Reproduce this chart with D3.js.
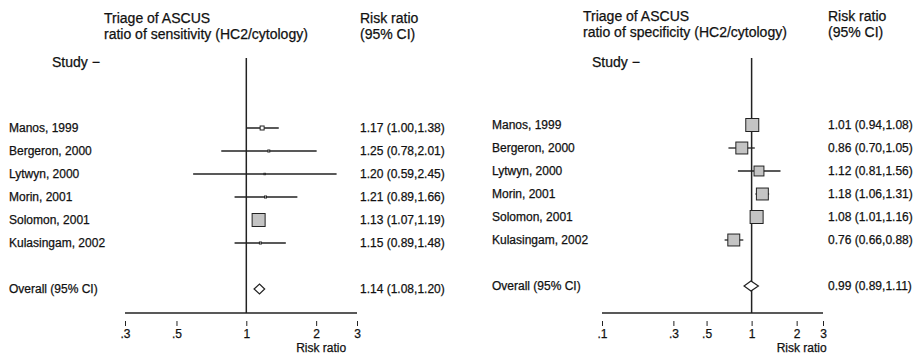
<!DOCTYPE html>
<html>
<head>
<meta charset="utf-8">
<script src="https://cdn.jsdelivr.net/npm/d3@7"></script>
<style>
  body { margin: 0; background: #fff; }
  svg { font-family: "Liberation Sans", Arial, sans-serif; }
  svg text { stroke: #111; stroke-width: 0.25px; }
</style>
</head>
<body>
<svg id="chart" width="920" height="356"></svg>
<script>
// studies shared by both panels
const studies = ["Manos, 1999", "Bergeron, 2000", "Lytwyn, 2000", "Morin, 2001", "Solomon, 2001", "Kulasingam, 2002"];

// ratio of sensitivity
const sensRR = [1.17, 1.25, 1.20, 1.21, 1.13, 1.15];
const sensLo = [1.00, 0.78, 0.59, 0.89, 1.07, 0.89];
const sensHi = [1.38, 2.01, 2.45, 1.66, 1.19, 1.48];
const sensWeight = [8, 2, 1, 2, 85, 2];
const sensOverall = [1.14, 1.08, 1.20];
const sensTicks = [0.3, 0.5, 1, 2, 3];

// ratio of specificity
const specRR = [1.01, 0.86, 1.12, 1.18, 1.08, 0.76];
const specLo = [0.94, 0.70, 0.81, 1.06, 1.01, 0.66];
const specHi = [1.08, 1.05, 1.56, 1.31, 1.16, 0.88];
const specWeight = [19, 16, 11, 16, 19, 16];
const specOverall = [0.99, 0.89, 1.11];
const specTicks = [0.1, 0.3, 0.5, 1, 2, 3];

// small stand-in for d3-selection-multi
d3.selection.prototype.attrs = function(m) {
  Object.keys(m).forEach(k => this.attr(k, m[k]));
  return this;
};

const svg = d3.select("#chart");
const f2 = d3.format(".2f");
const tickFmt = d => d < 1 ? String(d).replace(/^0/, "") : String(d);

function forest(o) {
  let g = svg.append("g"),
    x = d3.scaleLog().domain(d3.extent(o.ticks)).range(o.xr),
    y = d3.scaleLinear().domain([0, 7]).range([o.top, o.top + 161]),
    size = d3.scaleSqrt().domain([0, d3.max(o.weight)]).range([0, 13]),
    axisY = 313;

  // headers
  g.append("text").attrs({x: o.hx, y: o.hy, "font-size": 14, fill: "#111"}).text("Triage of ASCUS");
  g.append("text").attrs({x: o.hx, y: o.hy + 16, "font-size": 14, fill: "#111"}).text(o.title);
  g.append("text").attrs({x: o.vx, y: o.hy, "font-size": 14, fill: "#111"}).text("Risk ratio");
  g.append("text").attrs({x: o.vx, y: o.hy + 16, "font-size": 14, fill: "#111"}).text("(95% CI)");
  g.append("text").attrs({x: o.sx, y: 67, "font-size": 14, fill: "#111"}).text("Study \u2212");

  // null line
  g.append("line").attrs({x1: x(1), x2: x(1), y1: 58, y2: axisY, stroke: "#222", "stroke-width": 1.5});

  const rows = studies.map((s, i) => ({name: s, rr: o.rr[i], lo: o.lo[i], hi: o.hi[i], w: o.weight[i], i: i}));

  // CI lines
  g.selectAll(".ci").data(rows).enter().append("line")
    .attrs({
      x1: d => x(d.lo), x2: d => x(d.hi),
      y1: d => y(d.i), y2: d => y(d.i),
      stroke: "#222", "stroke-width": 1.3
    });

  // weight boxes
  g.selectAll(".box").data(rows).enter().append("rect")
    .attrs({
      x: d => x(d.rr) - size(d.w) / 2,
      y: d => y(d.i) - size(d.w) / 2,
      width: d => size(d.w),
      height: d => size(d.w),
      fill: d => size(d.w) > 6 ? "#c4c4c4" : "#fff",
      stroke: "#222", "stroke-width": 1
    });

  // study labels and values
  g.selectAll(".lab").data(rows).enter().append("text")
    .attrs({x: o.lx, y: d => y(d.i) + 4, "font-size": 12, fill: "#111"})
    .text(d => d.name);
  g.selectAll(".val").data(rows).enter().append("text")
    .attrs({x: o.vx, y: d => y(d.i) + 4, "font-size": 12, fill: "#111"})
    .text(d => `${f2(d.rr)} (${f2(d.lo)},${f2(d.hi)})`);

  // overall
  let [est, lo, hi] = o.overall, oy = y(7);
  g.append("path")
    .attr("d", `M${x(lo)},${oy}L${x(est)},${oy - 5}L${x(hi)},${oy}L${x(est)},${oy + 5}Z`)
    .attrs({fill: "#fff", stroke: "#222", "stroke-width": 1.2});
  g.append("text").attrs({x: o.lx, y: oy + 4, "font-size": 12, fill: "#111"}).text("Overall (95% CI)");
  g.append("text").attrs({x: o.vx, y: oy + 4, "font-size": 12, fill: "#111"})
    .text(`${f2(est)} (${f2(lo)},${f2(hi)})`);

  // axis
  g.append("line").attrs({x1: o.xr[0], x2: o.xr[1], y1: axisY, y2: axisY, stroke: "#222", "stroke-width": 1.6});
  let ax = g.append("g").attr("transform", `translate(0,${axisY + 8})`)
    .call(d3.axisBottom(x).tickValues(o.ticks).tickFormat(tickFmt).tickSize(5).tickPadding(3));
  ax.select(".domain").remove();
  ax.selectAll("line").attr("stroke", "#222");
  ax.selectAll("text").attrs({"font-size": 12, fill: "#111"}).style("font-family", "Liberation Sans, Arial, sans-serif");

  g.append("text").attrs({x: x(2) + 5, y: 352, "text-anchor": "middle", "font-size": 12, fill: "#111"}).text("Risk ratio");
}

forest({
  title: "ratio of sensitivity (HC2/cytology)",
  rr: sensRR, lo: sensLo, hi: sensHi, weight: sensWeight, overall: sensOverall, ticks: sensTicks,
  xr: [125, 357], top: 128, hx: 104, hy: 23, vx: 360, lx: 9, sx: 52
});

forest({
  title: "ratio of specificity (HC2/cytology)",
  rr: specRR, lo: specLo, hi: specHi, weight: specWeight, overall: specOverall, ticks: specTicks,
  xr: [602, 823], top: 125, hx: 583, hy: 21, vx: 828, lx: 492, sx: 592
});
</script>
</body>
</html>
